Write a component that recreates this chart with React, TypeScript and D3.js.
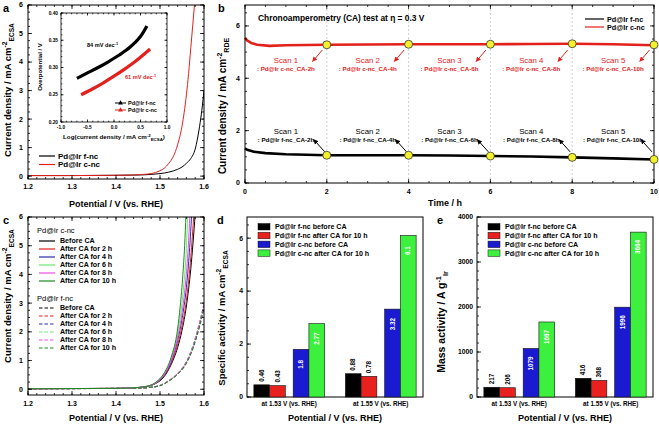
import React from 'react';
import * as d3 from 'd3';

const FONT = '"Liberation Sans", Arial, Helvetica, sans-serif';
const RED = '#e3211c';

// ---------- Panel a : LSV ----------
const aFncV = [1.2, 1.3, 1.4, 1.45, 1.48, 1.5, 1.52, 1.54, 1.55, 1.56, 1.57, 1.58, 1.585, 1.59, 1.595, 1.6];
const aFncJ = [0.02, 0.02, 0.03, 0.04, 0.06, 0.09, 0.14, 0.24, 0.32, 0.45, 0.62, 0.95, 1.3, 1.75, 2.3, 3.0];
const aCncV = [1.2, 1.3, 1.4, 1.44, 1.46, 1.48, 1.5, 1.51, 1.52, 1.53, 1.54, 1.55, 1.56, 1.565, 1.57, 1.575, 1.58];
const aCncJ = [0.02, 0.02, 0.03, 0.04, 0.06, 0.09, 0.19, 0.28, 0.45, 0.68, 1.1, 1.75, 2.85, 3.6, 4.5, 5.4, 6.3];
const aNames = ['Pd@Ir f-nc', 'Pd@Ir c-nc'];

// inset : Tafel
const inFncX = [-0.7, -0.5, -0.3, -0.1, 0.1, 0.3, 0.5, 0.62];
const inFncY = [0.28, 0.29, 0.3, 0.311, 0.323, 0.337, 0.357, 0.376];
const inCncX = [-0.62, -0.4, -0.2, 0, 0.2, 0.4, 0.6, 0.68];
const inCncY = [0.25, 0.261, 0.272, 0.284, 0.297, 0.311, 0.327, 0.334];
const inSlopes = ['84 mV dec', '61 mV dec'];

// ---------- Panel b : chronoamperometry ----------
const bTf = [0, 0.05, 0.2, 0.5, 1, 1.5, 2, 3, 4, 5, 6, 7, 8, 9, 10];
const bJf = [1.32, 1.27, 1.2, 1.14, 1.1, 1.08, 1.06, 1.06, 1.06, 1.05, 1.03, 1.01, 0.98, 0.94, 0.9];
const bTc = [0, 0.05, 0.15, 0.3, 0.6, 1, 1.5, 2, 3, 4, 5, 6, 7, 8, 9, 10];
const bJc = [5.55, 5.45, 5.35, 5.28, 5.24, 5.26, 5.27, 5.28, 5.29, 5.3, 5.3, 5.3, 5.31, 5.32, 5.3, 5.26];
const scanTimes = [2, 4, 6, 8, 10];
const scanJc = [5.28, 5.3, 5.3, 5.32, 5.28];
const scanJf = [1.06, 1.06, 1.03, 0.98, 0.9];
const scanHours = ['2h', '4h', '6h', '8h', '10h'];

// ---------- Panel c : LSV after CA ----------
const cNames = ['Before CA', 'After CA for 2 h', 'After CA for 4 h', 'After CA for 6 h', 'After CA for 8 h', 'After CA for 10 h'];
const cColors = ['#000000', '#e3211c', '#2b2bb0', '#6ee86e', '#ee4bee', '#1f8a1f'];
const cSolidV = [
  [1.2, 1.4, 1.44, 1.47, 1.49, 1.51, 1.525, 1.54, 1.55, 1.56, 1.57, 1.58],
  [1.2, 1.4, 1.44, 1.47, 1.49, 1.51, 1.525, 1.54, 1.55, 1.56, 1.57, 1.577],
  [1.2, 1.4, 1.44, 1.47, 1.49, 1.51, 1.525, 1.54, 1.55, 1.56, 1.566, 1.572],
  [1.2, 1.4, 1.44, 1.47, 1.49, 1.51, 1.525, 1.54, 1.548, 1.555, 1.56, 1.563],
  [1.2, 1.4, 1.44, 1.47, 1.49, 1.51, 1.525, 1.54, 1.55, 1.558, 1.564, 1.568],
  [1.2, 1.4, 1.44, 1.47, 1.49, 1.51, 1.525, 1.54, 1.546, 1.552, 1.556, 1.559],
];
const cSolidJ = [
  [0.02, 0.03, 0.05, 0.1, 0.2, 0.45, 0.85, 1.45, 2.05, 2.9, 4.2, 6.1],
  [0.02, 0.03, 0.05, 0.1, 0.21, 0.48, 0.9, 1.55, 2.2, 3.1, 4.6, 6.1],
  [0.02, 0.03, 0.05, 0.1, 0.22, 0.5, 0.95, 1.7, 2.45, 3.55, 4.6, 6.1],
  [0.02, 0.03, 0.05, 0.1, 0.23, 0.55, 1.05, 1.95, 2.75, 3.8, 4.9, 6.1],
  [0.02, 0.03, 0.05, 0.1, 0.22, 0.52, 1.0, 1.8, 2.65, 3.7, 4.9, 6.1],
  [0.02, 0.03, 0.05, 0.1, 0.24, 0.58, 1.1, 2.1, 2.9, 4.0, 5.0, 6.1],
];
const cDashV = [1.2, 1.4, 1.45, 1.48, 1.5, 1.52, 1.54, 1.56, 1.575, 1.59, 1.6];
const cDashJ = [
  [0.02, 0.03, 0.04, 0.07, 0.13, 0.3, 0.55, 0.95, 1.5, 2.3, 2.95],
  [0.02, 0.03, 0.04, 0.07, 0.13, 0.29, 0.53, 0.92, 1.45, 2.22, 2.85],
  [0.02, 0.03, 0.04, 0.07, 0.13, 0.3, 0.54, 0.94, 1.48, 2.27, 2.9],
  [0.02, 0.03, 0.04, 0.07, 0.14, 0.31, 0.56, 0.97, 1.53, 2.35, 3.0],
  [0.02, 0.03, 0.04, 0.07, 0.13, 0.3, 0.55, 0.96, 1.51, 2.32, 2.97],
  [0.02, 0.03, 0.04, 0.07, 0.12, 0.28, 0.52, 0.9, 1.42, 2.18, 2.8],
];

// ---------- Panels d, e : bars ----------
const barGroups = ['at 1.53 V (vs. RHE)', 'at 1.55 V (vs. RHE)'];
const barSeries = ['Pd@Ir f-nc before CA', 'Pd@Ir f-nc after CA for 10 h', 'Pd@Ir c-nc before CA', 'Pd@Ir c-nc after CA for 10 h'];
const barColors = ['#000000', '#e8201e', '#1a1ad0', '#3ef03e'];
const specActivity = [[0.46, 0.43, 1.8, 2.77], [0.88, 0.78, 3.32, 6.1]];
const massActivity = [[217, 206, 1079, 1667], [416, 368, 1996, 3664]];

const steps = (a: number, b: number, s: number) => {
  const n = Math.round((b - a) / s);
  return d3.range(0, n + 1).map((i) => +(a + i * s).toFixed(6));
};

function tickSet(key: string, xs: any, ys: any, xMaj: number[], xMin: number[], yMaj: number[], yMin: number[], sides = 'lrtb', L = 4, l = 2) {
  const [xl, xr] = xs.range();
  const [yb, yt] = ys.range();
  const out: any[] = [];
  const add = (vals: number[], axis: string, pos: number, dir: number, len: number, k: string) => {
    vals.forEach((v, i) => {
      out.push(axis === 'x'
        ? <line key={key + k + i} x1={xs(v)} x2={xs(v)} y1={pos} y2={pos + dir * len} stroke="#000" strokeWidth={0.8} />
        : <line key={key + k + i} y1={ys(v)} y2={ys(v)} x1={pos} x2={pos + dir * len} stroke="#000" strokeWidth={0.8} />);
    });
  };
  if (sides.includes('b')) { add(xMaj, 'x', yb, -1, L, 'bM'); add(xMin, 'x', yb, -1, l, 'bm'); }
  if (sides.includes('t')) { add(xMaj, 'x', yt, 1, L, 'tM'); add(xMin, 'x', yt, 1, l, 'tm'); }
  if (sides.includes('l')) { add(yMaj, 'y', xl, 1, L, 'lM'); add(yMin, 'y', xl, 1, l, 'lm'); }
  if (sides.includes('r')) { add(yMaj, 'y', xr, -1, L, 'rM'); add(yMin, 'y', xr, -1, l, 'rm'); }
  return out;
}

function Frame({ xs, ys }: any) {
  const [xl, xr] = xs.range();
  const [yb, yt] = ys.range();
  return <rect x={xl} y={yt} width={xr - xl} height={yb - yt} fill="none" stroke="#000" strokeWidth={1} />;
}

function YTitle({ x, y, main, sup, sub, size = 9.5 }: any) {
  return (
    <text transform={`translate(${x},${y}) rotate(-90)`} textAnchor="middle" fontSize={size} fontWeight="bold">
      {main}
      <tspan dy={-size * 0.38} fontSize={size * 0.7}>{sup}</tspan>
      <tspan dy={size * 0.7} fontSize={size * 0.7}>{sub}</tspan>
    </text>
  );
}

function BarPanel({ values, y, frameL, frameR, yMaj, yMin, fmtTick, letter, title }: any) {
  const x0 = d3.scaleBand().domain(barGroups).range([frameL, frameR]).paddingInner(0.2265).paddingOuter(0.075);
  const pair = d3.scaleBand().domain(['f', 'c']).range([0, x0.bandwidth()]).paddingInner(0.2);
  const bw = pair.bandwidth() / 2;
  const [yb, yt] = y.range();
  const xsDummy = d3.scaleLinear().range([frameL, frameR]);
  return (
    <g>
      <rect x={frameL} y={yt} width={frameR - frameL} height={yb - yt} fill="none" stroke="#000" strokeWidth={1} />
      {tickSet('bt' + letter, xsDummy, y, [], [], yMaj, yMin, 'l')}
      {yMaj.map((v: number) => (
        <text key={'yl' + v} x={frameL - 4} y={y(v)} dy="0.35em" textAnchor="end" fontSize={6.8} fontWeight="bold">{fmtTick(v)}</text>
      ))}
      {barGroups.map((g, gi) => (
        <g key={g}>
          {values[gi].map((v: number, si: number) => {
            const bx = (x0(g) as number) + (pair(si < 2 ? 'f' : 'c') as number) + (si % 2) * bw;
            const top = y(v);
            const cxm = bx + bw / 2;
            const inside = si >= 2;
            const ty = inside ? Math.min((top + yb) / 2, top + 15) : top - 3;
            return (
              <g key={si}>
                <rect x={bx} y={top} width={bw} height={yb - top} fill={barColors[si]} stroke="#111" strokeWidth={0.6} />
                <text transform={`translate(${cxm},${ty}) rotate(-90)`} textAnchor={inside ? 'middle' : 'start'} dy="0.35em"
                  fontSize={6.3} fontWeight="bold" fill={inside ? '#fff' : '#000'}>{String(v)}</text>
              </g>
            );
          })}
          <text x={(x0(g) as number) + x0.bandwidth() / 2} y={406} textAnchor="middle" fontSize={6.3} fontWeight="bold">{g}</text>
        </g>
      ))}
      {barSeries.map((s, i) => (
        <g key={s}>
          <rect x={frameL + 11} y={223.5 + i * 8.8} width={12} height={6.5} fill={barColors[i]} stroke="#111" strokeWidth={0.5} />
          <text x={frameL + 28} y={227 + i * 8.8} dy="0.35em" fontSize={7.1} fontWeight="bold">{s}</text>
        </g>
      ))}
      <text x={(frameL + frameR) / 2} y={421} textAnchor="middle" fontSize={9} fontWeight="bold">Potential / V (vs. RHE)</text>
      {title}
    </g>
  );
}

export default function App() {
  const ax = d3.scaleLinear().domain([1.2, 1.6]).range([28, 204]);
  const ay = d3.scaleLinear().domain([-0.1, 6]).range([179, 5]);
  const ix = d3.scaleLinear().domain([-1, 1]).range([61, 167]);
  const iy = d3.scaleLinear().domain([0.2, 0.4]).range([122, 13]);
  const bx = d3.scaleLinear().domain([0, 10]).range([245, 654]);
  const by = d3.scaleLinear().domain([0, 6.8]).range([183, 5]);
  const cx = d3.scaleLinear().domain([1.2, 1.6]).range([28, 204]);
  const cy = d3.scaleLinear().domain([-0.2, 6]).range([395, 217]);
  const dy = d3.scaleLinear().domain([0, 6.8]).range([397, 217]);
  const ey = d3.scaleLinear().domain([0, 4000]).range([397, 217]);

  const mk = (xs: any, ys: any, curve: any = d3.curveMonotoneX) =>
    d3.line<[number, number]>().x((d) => xs(d[0])).y((d) => ys(d[1])).curve(curve);
  const zip = (a: number[], b: number[]) => a.map((v, i) => [v, b[i]] as [number, number]);

  const la = mk(ax, ay);
  const li = mk(ix, iy, d3.curveCatmullRom);
  const lb = mk(bx, by, d3.curveLinear);
  const lc = mk(cx, cy);

  const vTicks = [1.2, 1.3, 1.4, 1.5, 1.6];

  return (
    <svg width={659} height={424} style={{ position: 'absolute', left: 0, top: 0, background: '#fff' }} fontFamily={FONT}>
      <defs>
        <clipPath id="clipA"><rect x={28} y={5} width={176} height={174} /></clipPath>
        <clipPath id="clipC"><rect x={28} y={217} width={176} height={178} /></clipPath>
        <marker id="arrR" viewBox="0 0 6 6" refX={5.5} refY={3} markerWidth={5} markerHeight={5} markerUnits="userSpaceOnUse" orient="auto">
          <path d="M0,0 L6,3 L0,6 z" fill={RED} />
        </marker>
        <marker id="arrK" viewBox="0 0 6 6" refX={5.5} refY={3} markerWidth={5} markerHeight={5} markerUnits="userSpaceOnUse" orient="auto">
          <path d="M0,0 L6,3 L0,6 z" fill="#000" />
        </marker>
      </defs>
      <rect x={0} y={0} width={659} height={424} fill="#fff" />

      {/* ================= Panel a ================= */}
      <text x={3} y={12} fontSize={11} fontWeight="bold">a</text>
      <g clipPath="url(#clipA)">
        <path d={la(zip(aFncV, aFncJ)) as string} fill="none" stroke="#000" strokeWidth={1} />
        <path d={la(zip(aCncV, aCncJ)) as string} fill="none" stroke={RED} strokeWidth={1} />
      </g>
      <Frame xs={ax} ys={ay} />
      {tickSet('a', ax, ay, vTicks, steps(1.2, 1.6, 0.02), d3.range(0, 7), steps(0, 6, 0.25))}
      {vTicks.map((v) => <text key={'ax' + v} x={ax(v)} y={189} textAnchor="middle" fontSize={7} fontWeight="bold">{v.toFixed(1)}</text>)}
      {d3.range(0, 7).map((v) => <text key={'ay' + v} x={23} y={ay(v)} dy="0.35em" textAnchor="end" fontSize={7} fontWeight="bold">{v}</text>)}
      <text x={116} y={207} textAnchor="middle" fontSize={9} fontWeight="bold">Potential / V (vs. RHE)</text>
      <YTitle x={11} y={90} main="Current density / mA cm" sup="-2" sub="ECSA" />
      {aNames.map((n, i) => (
        <g key={n}>
          <line x1={39} x2={55} y1={156 + i * 8.5} y2={156 + i * 8.5} stroke={i === 0 ? '#000' : RED} strokeWidth={1.2} />
          <text x={58} y={156 + i * 8.5} dy="0.35em" fontSize={8} fontWeight="bold">{n}</text>
        </g>
      ))}

      {/* inset */}
      <rect x={61} y={13} width={106} height={109} fill="#fff" stroke="#000" strokeWidth={0.8} />
      {tickSet('in', ix, iy, steps(-1, 1, 0.5), steps(-1, 1, 0.1), steps(0.2, 0.4, 0.05), steps(0.2, 0.4, 0.01), 'lrtb', 2.5, 1.3)}
      {steps(-1, 1, 0.5).map((v) => <text key={'ix' + v} x={ix(v)} y={129} textAnchor="middle" fontSize={4.8} fontWeight="bold">{v.toFixed(1)}</text>)}
      {steps(0.2, 0.4, 0.05).map((v) => <text key={'iy' + v} x={58} y={iy(v)} dy="0.35em" textAnchor="end" fontSize={4.8} fontWeight="bold">{v.toFixed(2)}</text>)}
      <text x={114} y={139} textAnchor="middle" fontSize={6.2} fontWeight="bold">
        Log(current density / mA cm<tspan dy={-2.2} fontSize={4.4}>-2</tspan><tspan dy={4} fontSize={4.4}>ECSA</tspan><tspan dy={-1.8}>)</tspan>
      </text>
      <text transform="translate(42,67) rotate(-90)" textAnchor="middle" fontSize={6} fontWeight="bold">Overpotential / V</text>
      <path d={li(zip(inFncX, inFncY)) as string} fill="none" stroke="#000" strokeWidth={3.2} />
      <path d={li(zip(inCncX, inCncY)) as string} fill="none" stroke={RED} strokeWidth={3.2} />
      <text x={87} y={45} dy="0.35em" fontSize={5.6} fontWeight="bold" fill="#000">{inSlopes[0]}<tspan dy={-2} fontSize={3.9}>-1</tspan></text>
      <text x={125} y={77} dy="0.35em" fontSize={5.6} fontWeight="bold" fill={RED}>{inSlopes[1]}<tspan dy={-2} fontSize={3.9}>-1</tspan></text>
      {aNames.map((n, i) => {
        const yy = 103 + i * 7;
        const col = i === 0 ? '#000' : RED;
        return (
          <g key={'il' + n}>
            <line x1={115} x2={126} y1={yy} y2={yy} stroke={col} strokeWidth={1} />
            <path d={d3.symbol(d3.symbolTriangle, 10)() as string} transform={`translate(120.5,${yy})`} fill={col} />
            <text x={128} y={yy} dy="0.35em" fontSize={5.5} fontWeight="bold">{n}</text>
          </g>
        );
      })}

      {/* ================= Panel b ================= */}
      <text x={218} y={12} fontSize={11} fontWeight="bold">b</text>
      {[2, 4, 6, 8].map((t) => (
        <line key={'g' + t} x1={bx(t)} x2={bx(t)} y1={5} y2={183} stroke="#bdbdbd" strokeWidth={0.7} strokeDasharray="2,2" />
      ))}
      <path d={lb(zip(bTc, bJc)) as string} fill="none" stroke={RED} strokeWidth={2.6} strokeLinejoin="round" />
      <path d={lb(zip(bTf, bJf)) as string} fill="none" stroke="#000" strokeWidth={2.6} strokeLinejoin="round" />
      <Frame xs={bx} ys={by} />
      {tickSet('b', bx, by, steps(0, 10, 2), steps(0, 10, 0.5), steps(0, 6, 2), steps(0, 6.5, 0.5))}
      {steps(0, 10, 2).map((v) => <text key={'bx' + v} x={bx(v)} y={194} textAnchor="middle" fontSize={7} fontWeight="bold">{v}</text>)}
      {steps(0, 6, 2).map((v) => <text key={'by' + v} x={240} y={by(v)} dy="0.35em" textAnchor="end" fontSize={7} fontWeight="bold">{v}</text>)}
      <text x={445} y={206} textAnchor="middle" fontSize={9} fontWeight="bold">Time / h</text>
      <YTitle x={226} y={106} main="Current density / mA cm" sup="-2" sub="RDE" size={10} />
      <text x={258} y={18} dy="0.35em" fontSize={8.4} fontWeight="bold">Chronoamperometry (CA) test at η = 0.3 V</text>
      {aNames.map((n, i) => (
        <g key={'bl' + n}>
          <line x1={585} x2={604} y1={19 + i * 8} y2={19 + i * 8} stroke={i === 0 ? '#000' : RED} strokeWidth={1.2} />
          <text x={607} y={19 + i * 8} dy="0.35em" fontSize={7.2} fontWeight="bold">{n}</text>
        </g>
      ))}
      {scanTimes.map((t, k) => (
        <g key={'scan' + t}>
          <text x={bx(t - 1)} y={by(4.6)} textAnchor="middle" fontSize={7.8} fill={RED}>{`Scan ${k + 1}`}</text>
          <text x={bx(t - 1)} y={by(4.26)} textAnchor="middle" fontSize={6.2} fontWeight="bold" fill={RED}>{`: Pd@Ir c-nc_CA-${scanHours[k]}`}</text>
          <text x={bx(t - 1)} y={by(1.89)} textAnchor="middle" fontSize={7.8} fill="#000">{`Scan ${k + 1}`}</text>
          <text x={bx(t - 1)} y={by(1.55)} textAnchor="middle" fontSize={6.2} fontWeight="bold" fill="#000">{`: Pd@Ir f-nc_CA-${scanHours[k]}`}</text>
          <line x1={bx(t - 0.11)} y1={by(5.08)} x2={bx(t - 0.35)} y2={by(4.64)} stroke={RED} strokeWidth={1} markerEnd="url(#arrR)" />
          <line x1={bx(t - 0.05)} y1={by(1.19)} x2={bx(t - 0.32)} y2={by(1.66)} stroke="#000" strokeWidth={1} markerEnd="url(#arrK)" />
          <circle cx={bx(t)} cy={by(scanJc[k])} r={4} fill="#f4f02c" stroke="#333" strokeWidth={0.8} />
          <circle cx={bx(t)} cy={by(scanJf[k])} r={4} fill="#f4f02c" stroke="#333" strokeWidth={0.8} />
        </g>
      ))}

      {/* ================= Panel c ================= */}
      <text x={3} y={224} fontSize={11} fontWeight="bold">c</text>
      <g clipPath="url(#clipC)">
        {cDashJ.map((js, i) => (
          <path key={'cd' + i} d={lc(zip(cDashV, js)) as string} fill="none" stroke={cColors[i]} strokeWidth={1} strokeDasharray="3.5,2" />
        ))}
        {cSolidV.map((vs, i) => (
          <path key={'cs' + i} d={lc(zip(vs, cSolidJ[i])) as string} fill="none" stroke={cColors[i]} strokeWidth={1} />
        ))}
      </g>
      <Frame xs={cx} ys={cy} />
      {tickSet('c', cx, cy, vTicks, steps(1.2, 1.6, 0.02), d3.range(0, 7), steps(0, 6, 0.25))}
      {vTicks.map((v) => <text key={'cx' + v} x={cx(v)} y={406} textAnchor="middle" fontSize={7} fontWeight="bold">{v.toFixed(1)}</text>)}
      {d3.range(0, 7).map((v) => <text key={'cy' + v} x={23} y={cy(v)} dy="0.35em" textAnchor="end" fontSize={7} fontWeight="bold">{v}</text>)}
      <text x={116} y={421} textAnchor="middle" fontSize={9} fontWeight="bold">Potential / V (vs. RHE)</text>
      <YTitle x={11} y={296} main="Current density / mA cm" sup="-2" sub="ECSA" />
      <text x={37} y={230} dy="0.35em" fontSize={7.5}>{aNames[1]}</text>
      {cNames.map((n, i) => (
        <g key={'cls' + i}>
          <line x1={39} x2={55} y1={241 + i * 8} y2={241 + i * 8} stroke={cColors[i]} strokeWidth={1.2} />
          <text x={60} y={241 + i * 8} dy="0.35em" fontSize={7.1} fontWeight="bold">{n}</text>
        </g>
      ))}
      <text x={37} y={298} dy="0.35em" fontSize={7.5}>{aNames[0]}</text>
      {cNames.map((n, i) => (
        <g key={'cld' + i}>
          <line x1={39} x2={55} y1={308 + i * 8} y2={308 + i * 8} stroke={cColors[i]} strokeWidth={1.2} strokeDasharray="3.5,2" />
          <text x={60} y={308 + i * 8} dy="0.35em" fontSize={7.1} fontWeight="bold">{n}</text>
        </g>
      ))}

      {/* ================= Panel d ================= */}
      <BarPanel values={specActivity} y={dy} frameL={247} frameR={423} yMaj={[0, 2, 4, 6]} yMin={steps(0, 6.5, 0.5)}
        fmtTick={(v: number) => String(v)} letter="d"
        title={<g>
          <text x={217} y={224} fontSize={11} fontWeight="bold">d</text>
          <YTitle x={225} y={318} main="Specific activity / mA cm" sup="-2" sub="ECSA" />
        </g>} />

      {/* ================= Panel e ================= */}
      <BarPanel values={massActivity} y={ey} frameL={477} frameR={653} yMaj={[0, 1000, 2000, 3000, 4000]} yMin={steps(0, 4000, 200)}
        fmtTick={(v: number) => String(v)} letter="e"
        title={<g>
          <text x={437} y={224} fontSize={11} fontWeight="bold">e</text>
          <YTitle x={445} y={322} main="Mass activity / A g" sup="-1" sub="Ir" size={10.5} />
        </g>} />
    </svg>
  );
}
